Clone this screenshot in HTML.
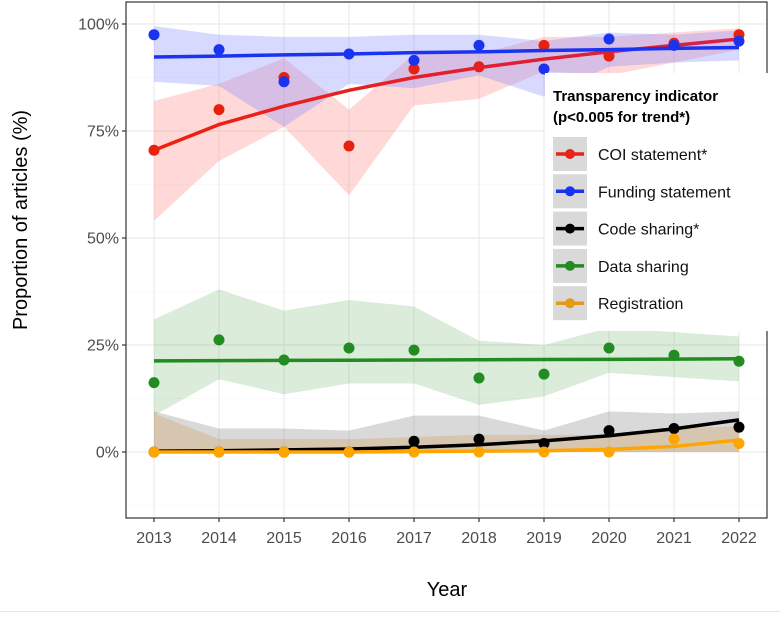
<!DOCTYPE html>
<html><head><meta charset="utf-8"><style>
body{margin:0;background:#fff;width:780px;height:613px;overflow:hidden;font-family:"Liberation Sans",Arial,sans-serif}
</style></head><body>
<svg id="c" width="780" height="613" xmlns="http://www.w3.org/2000/svg">
<defs><linearGradient id="coiGrad" x1="0" x2="1" y1="0" y2="0"><stop offset="0" stop-color="#f0200c"/><stop offset="1" stop-color="#d4204a"/></linearGradient></defs>
</svg>
<script>
const years=[2013,2014,2015,2016,2017,2018,2019,2020,2021,2022];
const yTicks=[0,25,50,75,100];
const yTickLabels=["0%","25%","50%","75%","100%"];
const coiPts=[70.5,80,87.5,71.5,89.5,90,95,92.5,95.5,97.5];
const coiFit=[70.5,76.5,80.8,84.5,87.5,89.8,91.8,93.5,95,96.5];
const coiLo=[54,68,76,60,81,82.5,89,88,91,94];
const coiHi=[82,86,92,80,93,93,97,97,98,99];
const funPts=[97.5,94,86.5,93,91.5,95,89.5,96.5,95,96];
const funFit=[92.3,92.5,92.8,93,93.3,93.5,93.8,94,94.3,94.5];
const funLo=[86.5,85.5,76,86,85,88,83,90,91,91.5];
const funHi=[99.5,97.5,97,97,97.5,97.5,96,98,97.5,98.5];
const codePts=[0,0,0,0,2.5,3,2,5,5.5,5.8];
const codeFit=[0.2,0.3,0.5,0.7,1.1,1.7,2.6,3.8,5.4,7.5];
const codeLo=[0,0,0,0,0,0,0,0,0,0];
const codeHi=[9.5,5.5,5.5,5,8.5,8.5,5,9.5,9,9.5];
const dataPts=[16.2,26.2,21.5,24.3,23.8,17.3,18.2,24.3,22.6,21.2];
const dataFit=[21.3,21.35,21.4,21.45,21.5,21.55,21.6,21.65,21.7,21.8];
const dataLo=[8.5,17,13.5,16,16,11,13,18.5,17.5,16.5];
const dataHi=[31,38,33,35.5,34,26,25,29,28,27];
const regPts=[0,0,0,0,0,0,0,0,3,2];
const regFit=[0,0,0,0,0.1,0.2,0.3,0.6,1.3,2.8];
const regLo=[0,0,0,0,0,0,0,0,0,0];
const regHi=[9,3,3,3,3.5,4,4,4,5.5,6];
const seriesNames=["COI statement*","Funding statement","Code sharing*","Data sharing","Registration"];

const NS="http://www.w3.org/2000/svg";
const svg=document.getElementById('c');
const L=126,R=767,T=2,B=518;
function xs(y){return 154+(y-2013)*65;}
function ys(v){return 452-v*4.28;}
function el(t,a,p){const e=document.createElementNS(NS,t);for(const k in a)e.setAttribute(k,a[k]);(p||svg).appendChild(e);return e;}

const grid=el('g',{});


yTicks.forEach(v=>el('line',{x1:L,x2:R,y1:ys(v),y2:ys(v),stroke:'#ebebeb','stroke-width':1.2},grid));
[12.5,37.5,62.5,87.5,-12.5].forEach(v=>el('line',{x1:L,x2:R,y1:ys(v),y2:ys(v),stroke:'#f4f4f4','stroke-width':0.6},grid));
years.forEach(y=>el('line',{x1:xs(y),x2:xs(y),y1:T,y2:B,stroke:'#ebebeb','stroke-width':1.2},grid));

const series=[
 {n:'data-sharing',pts:dataPts,fit:dataFit,lo:dataLo,hi:dataHi,c:'#228b22',f:'#228b22',o:0.16},
 {n:'code-sharing',pts:codePts,fit:codeFit,lo:codeLo,hi:codeHi,c:'#000000',f:'#808080',o:0.3},
 {n:'registration',pts:regPts,fit:regFit,lo:regLo,hi:regHi,c:'#ffa500',f:'#d2a060',o:0.35},
 {n:'coi-statement',pts:coiPts,fit:coiFit,lo:coiLo,hi:coiHi,c:'#e8200f',f:'#ff7f7f',o:0.3,lc:'url(#coiGrad)'},
 {n:'funding-statement',pts:funPts,fit:funFit,lo:funLo,hi:funHi,c:'#1a33f0',f:'#7a80ff',o:0.3}
];
series.forEach(s=>{
  let d='M'+years.map((y,i)=>xs(y)+','+ys(s.hi[i])).join('L')+'L'+years.slice().reverse().map((y,j)=>xs(y)+','+ys(s.lo[years.length-1-j])).join('L')+'Z';
  const r=el('path',{d:d,fill:s.f,'fill-opacity':s.o});
  
  
});
series.forEach(s=>{
  const g=el('g',{});
  
  
  s.pts.forEach((v,i)=>{
    const c=el('circle',{cx:xs(years[i]),cy:ys(v),r:5.5,fill:s.c},g);
    
    
  });
  const p=el('polyline',{points:years.map((y,i)=>xs(y)+','+ys(s.fit[i])).join(' '),fill:'none',stroke:s.lc||s.c,'stroke-width':3.5},g);
  
  
});
el('rect',{x:L,y:T,width:R-L,height:B-T,fill:'none',stroke:'#333','stroke-width':1.2});

const ax=el('g',{fill:'#4d4d4d','font-size':16});


yTicks.forEach((v,i)=>{
  el('line',{x1:L-4,x2:L,y1:ys(v),y2:ys(v),stroke:'#333','stroke-width':1.2},ax);
  const t=el('text',{x:L-7,y:ys(v)+5.5,'text-anchor':'end'},ax);t.textContent=yTickLabels[i];
  
  
});
years.forEach(y=>{
  el('line',{x1:xs(y),x2:xs(y),y1:B,y2:B+4,stroke:'#333','stroke-width':1.2},ax);
  const t=el('text',{x:xs(y),y:543,'text-anchor':'middle'},ax);t.textContent=y;
  
  
});
const xt=el('text',{x:447,y:596,'text-anchor':'middle','font-size':20,fill:'#000'});xt.textContent='Year';


const yt=el('text',{x:27,y:220,'text-anchor':'middle','font-size':20,fill:'#000',transform:'rotate(-90 27 220)'});yt.textContent='Proportion of articles (%)';



const lg=el('g',{});


el('rect',{x:545,y:73,width:240,height:258,fill:'#fff'},lg);
const t1=el('text',{x:553,y:101,'font-size':15,'font-weight':'bold',fill:'#000'},lg);t1.textContent='Transparency indicator';
const t2=el('text',{x:553,y:122,'font-size':15,'font-weight':'bold',fill:'#000'},lg);t2.textContent='(p<0.005 for trend*)';
const lc=['#e32619','#1a33f0','#000000','#228b22','#e69a10'];
seriesNames.forEach((n,i)=>{
  const cy=154+i*37.3;
  const e=el('g',{},lg);
  
  
  el('rect',{x:553,y:cy-17,width:34,height:34,fill:'#d9d9d9'},e);
  el('line',{x1:556,x2:584,y1:cy,y2:cy,stroke:lc[i],'stroke-width':3.5},e);
  el('circle',{cx:570,cy:cy,r:5,fill:lc[i]},e);
  const t=el('text',{x:598,y:cy+6,'font-size':16,fill:'#111'},e);t.textContent=n;
});
el('line',{x1:0,x2:780,y1:611.5,y2:611.5,stroke:'#e6e6e6','stroke-width':1});
</script>
</body></html>
